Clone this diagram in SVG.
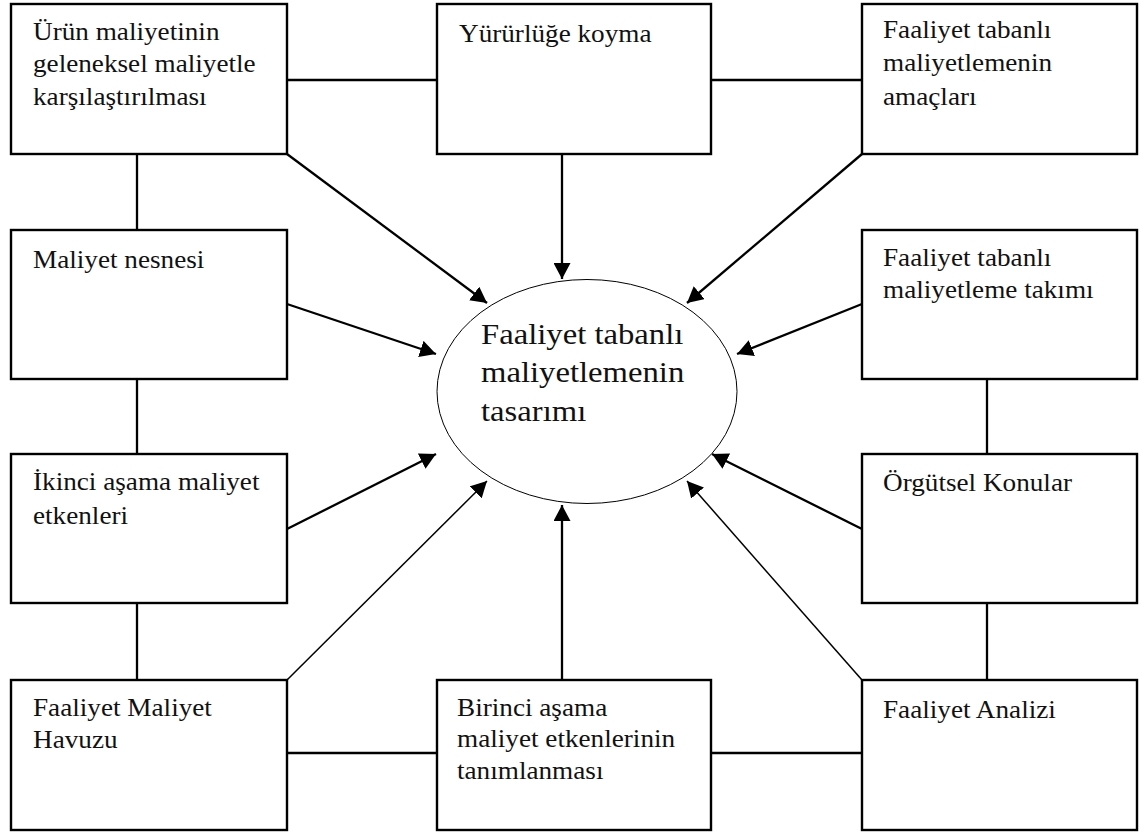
<svg xmlns="http://www.w3.org/2000/svg" width="1143" height="833" viewBox="0 0 1143 833">
  <defs>
    <style>
      .box { fill: #ffffff; stroke: #000000; stroke-width: 2.4; }
      .ell { fill: #ffffff; stroke: #000000; stroke-width: 1; }
      .lbl { font-family: "Liberation Serif", "Times New Roman", serif; font-size: 25px; fill: #111111; }
      .big { font-family: "Liberation Serif", "Times New Roman", serif; font-size: 30px; fill: #111111; }
      .ln { stroke: #000000; stroke-width: 2.3; fill: none; }
      .thin { stroke: #000000; stroke-width: 1.5; fill: none; }
    </style>
    <marker id="ah" markerUnits="userSpaceOnUse" markerWidth="17" markerHeight="17" refX="16" refY="8.5" orient="auto">
      <path d="M0,0 L16,8.5 L0,17 Z" fill="#000000"/>
    </marker>
  </defs>
  <rect width="1143" height="833" fill="#ffffff"/>

  <g id="connectors">
    <line class="ln" x1="287" y1="80" x2="437" y2="80"/>
    <line class="ln" x1="711" y1="80" x2="862" y2="80"/>
    <line class="ln" x1="287" y1="753" x2="437" y2="753"/>
    <line class="ln" x1="711" y1="753" x2="862" y2="753"/>
    <line class="ln" x1="137" y1="154" x2="137" y2="230"/>
    <line class="ln" x1="137" y1="379" x2="137" y2="454"/>
    <line class="ln" x1="137" y1="603" x2="137" y2="680"/>
    <line class="ln" x1="987" y1="379" x2="987" y2="454"/>
    <line class="ln" x1="987" y1="603" x2="987" y2="680"/>
    <line class="ln" x1="287" y1="154" x2="487" y2="303" marker-end="url(#ah)"/>
    <line class="ln" x1="562" y1="154" x2="562" y2="279" marker-end="url(#ah)"/>
    <line class="ln" x1="862" y1="154" x2="687" y2="303" marker-end="url(#ah)"/>
    <line class="ln" x1="287" y1="304" x2="436" y2="354" marker-end="url(#ah)"/>
    <line class="ln" x1="862" y1="304" x2="737" y2="354" marker-end="url(#ah)"/>
    <line class="ln" x1="287" y1="529" x2="436" y2="454" marker-end="url(#ah)"/>
    <line class="ln" x1="862" y1="529" x2="712" y2="454" marker-end="url(#ah)"/>
    <line class="thin" x1="287" y1="680" x2="487" y2="481" marker-end="url(#ah)"/>
    <line class="ln" x1="562" y1="680" x2="562" y2="505" marker-end="url(#ah)"/>
    <line class="thin" x1="862" y1="680" x2="687" y2="481" marker-end="url(#ah)"/>
  </g>

  <g id="center">
    <ellipse class="ell" cx="587" cy="391.5" rx="150" ry="112"/>
    <g transform="translate(481,344) scale(1.09,1)">
      <text class="big" x="0" y="0">Faaliyet tabanlı</text>
      <text class="big" x="0" y="38.5">maliyetlemenin</text>
      <text class="big" x="0" y="77">tasarımı</text>
    </g>
  </g>

  <g id="n-urun">
    <rect class="box" x="11" y="4" width="276" height="150"/>
    <g transform="translate(33,39.5) scale(1.088,1)">
      <text class="lbl" x="0" y="0">Ürün maliyetinin</text>
      <text class="lbl" x="0" y="33">geleneksel maliyetle</text>
      <text class="lbl" x="0" y="66">karşılaştırılması</text>
    </g>
  </g>

  <g id="n-yururluge">
    <rect class="box" x="437" y="4" width="274" height="150"/>
    <g transform="translate(459,42) scale(1.088,1)">
      <text class="lbl" x="0" y="0">Yürürlüğe koyma</text>
    </g>
  </g>

  <g id="n-amaclar">
    <rect class="box" x="862" y="4" width="275" height="150"/>
    <g transform="translate(883,37.5) scale(1.088,1)">
      <text class="lbl" x="0" y="0">Faaliyet tabanlı</text>
      <text class="lbl" x="0" y="34">maliyetlemenin</text>
      <text class="lbl" x="0" y="68">amaçları</text>
    </g>
  </g>

  <g id="n-nesne">
    <rect class="box" x="11" y="230" width="276" height="149"/>
    <g transform="translate(33,268) scale(1.088,1)">
      <text class="lbl" x="0" y="0">Maliyet nesnesi</text>
    </g>
  </g>

  <g id="n-takim">
    <rect class="box" x="862" y="230" width="275" height="149"/>
    <g transform="translate(883,266) scale(1.088,1)">
      <text class="lbl" x="0" y="0">Faaliyet tabanlı</text>
      <text class="lbl" x="0" y="32">maliyetleme takımı</text>
    </g>
  </g>

  <g id="n-ikinci">
    <rect class="box" x="11" y="454" width="276" height="149"/>
    <g transform="translate(33,490) scale(1.088,1)">
      <text class="lbl" x="0" y="0">İkinci aşama maliyet</text>
      <text class="lbl" x="0" y="34">etkenleri</text>
    </g>
  </g>

  <g id="n-orgutsel">
    <rect class="box" x="862" y="454" width="275" height="149"/>
    <g transform="translate(883,491) scale(1.088,1)">
      <text class="lbl" x="0" y="0">Örgütsel Konular</text>
    </g>
  </g>

  <g id="n-havuz">
    <rect class="box" x="11" y="680" width="276" height="150"/>
    <g transform="translate(33,716) scale(1.088,1)">
      <text class="lbl" x="0" y="0">Faaliyet Maliyet</text>
      <text class="lbl" x="0" y="32.5">Havuzu</text>
    </g>
  </g>

  <g id="n-birinci">
    <rect class="box" x="437" y="680" width="274" height="150"/>
    <g transform="translate(457,716) scale(1.088,1)">
      <text class="lbl" x="0" y="0">Birinci aşama</text>
      <text class="lbl" x="0" y="31.5">maliyet etkenlerinin</text>
      <text class="lbl" x="0" y="63.5">tanımlanması</text>
    </g>
  </g>

  <g id="n-analiz">
    <rect class="box" x="862" y="680" width="275" height="150"/>
    <g transform="translate(883,718) scale(1.088,1)">
      <text class="lbl" x="0" y="0">Faaliyet Analizi</text>
    </g>
  </g>
</svg>
